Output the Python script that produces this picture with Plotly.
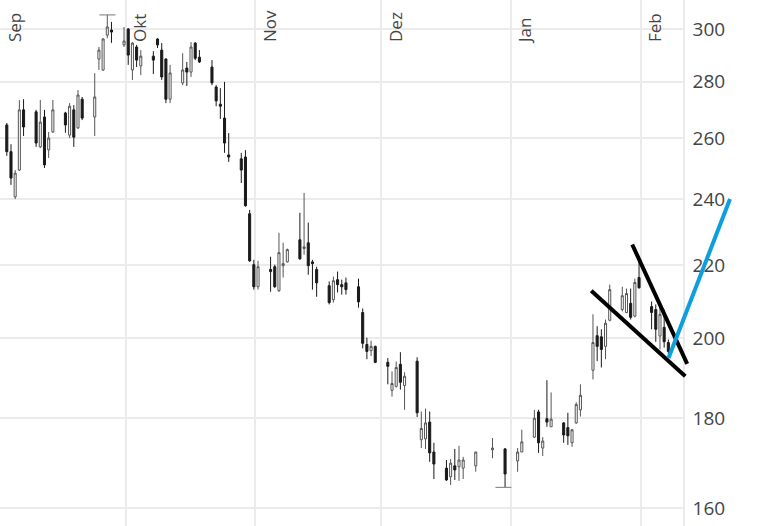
import pandas as pd
import plotly.graph_objects as go

# ---------------- data ----------------
holidays = ["2019-12-24", "2019-12-25", "2019-12-26", "2019-12-31", "2020-01-01"]
trading_days = pd.bdate_range("2019-09-02", "2020-02-07")
trading_days = trading_days[~trading_days.isin(pd.to_datetime(holidays))]
session_time = pd.Timedelta(hours=15)
dates = trading_days + session_time

open_ = [264.5, 255.4, 240.7, 249.3, 269.8, 269.1, 257.0, 267.3, 256.0, 262.1,
         268.7, 261.0, 269.8, 263.5, 273.6, 267.3, 288.4, 284.3, 297.6, 299.6,
         293.8,
         300.0, 284.3, 293.0, 285.8, 289.5, 296.1, 291.8, 288.4, 273.6, 279.5,
         285.0, 283.5, 294.5, 289.1, 285.4, 278.0, 271.8, 266.9, 254.3, 253.0,
         253.6, 235.4, 220.2,
         213.9, 218.8, 219.6, 212.8, 219.9, 221.0, 227.5, 224.9, 226.6, 221.0,
         218.8, 214.2, 210.3, 215.9, 214.5, 215.0, 213.9, 206.8, 198.3, 196.7,
         197.8,
         193.7, 186.7, 187.7, 193.2, 187.9, 194.0, 175.0, 175.2, 179.1, 172.2,
         168.6, 166.7, 169.1, 168.9, 168.6, 169.1, 172.7, 172.9,
         170.2, 172.2, 175.6, 181.5, 173.1, 179.9, 178.0, 178.9, 177.8, 174.3,
         178.9, 182.0, 191.7, 200.6, 200.3, 197.8, 204.7, 207.6, 206.8, 209.3,
         205.8, 216.5,
         208.4, 207.6, 200.5, 202.8, 198.8]
high = [265.2, 257.9, 249.3, 273.3, 273.6, 269.8, 273.3, 269.8, 262.1, 273.3,
        269.1, 272.2, 271.5, 276.9, 274.4, 283.1, 293.0, 296.4, 305.6, 302.8,
        300.8,
        300.4, 294.9, 293.8, 291.8, 291.4, 296.4, 294.5, 288.7, 286.2, 290.6,
        287.3, 294.9, 294.9, 291.8, 288.0, 278.7, 277.6, 279.9, 261.7, 255.0,
        255.9, 236.6, 221.6,
        221.3, 222.5, 220.2, 229.6, 226.6, 224.9, 235.7, 241.9, 232.7, 221.6,
        219.6, 215.4, 216.8, 218.2, 215.9, 216.5, 216.2, 207.9, 200.1, 199.3,
        198.0,
        194.8, 191.4, 193.9, 196.3, 191.2, 195.0, 181.6, 182.3, 181.6, 174.3,
        170.4, 170.6, 172.9, 173.6, 171.1, 172.2, 175.4, 173.1,
        173.1, 177.3, 182.0, 182.0, 175.6, 189.2, 186.2, 179.1, 181.3, 177.5,
        183.8, 188.2, 206.3, 203.1, 202.3, 204.9, 214.5, 213.9, 213.4, 213.4,
        216.2, 221.0,
        209.8, 209.0, 209.5, 207.6, 199.6]
low = [254.0, 244.5, 240.0, 249.0, 260.7, 257.0, 256.6, 250.0, 253.3, 261.8,
       261.8, 260.0, 257.0, 263.1, 266.2, 260.7, 284.3, 283.9, 296.4, 294.6,
       293.0,
       286.2, 280.6, 285.4, 282.4, 282.8, 292.6, 280.6, 272.2, 272.2, 278.7,
       278.4, 281.7, 288.0, 286.9, 278.7, 271.1, 266.6, 255.0, 252.0, 245.1,
       237.6, 221.0, 213.1,
       213.1, 212.5, 213.6, 212.5, 216.5, 220.8, 221.6, 223.1, 217.3, 213.1,
       211.1, 209.0, 209.5, 212.3, 211.7, 211.7, 208.1, 197.3, 194.5, 195.3,
       193.5,
       188.2, 185.2, 187.4, 186.9, 182.0, 180.3, 173.1, 172.9, 170.0, 166.2,
       165.8, 164.9, 166.0, 165.8, 166.2, 167.8, 170.8, 164.4,
       167.8, 172.2, 175.4, 172.0, 171.3, 178.0, 178.0, 174.3, 173.8, 173.4,
       178.7, 180.4, 189.4, 194.0, 192.4, 194.5, 204.4, 207.1, 206.6, 204.9,
       205.5, 213.4,
       202.3, 199.0, 197.0, 197.5, 195.8]
close = [255.4, 246.7, 248.3, 269.8, 263.8, 258.3, 265.5, 251.0, 260.0, 269.8,
         264.5, 271.1, 260.3, 275.1, 266.9, 274.4, 291.8, 296.1, 300.8, 298.8,
         295.3,
         289.9, 294.5, 288.0, 289.5, 288.0, 293.8, 281.7, 273.6, 283.2, 284.3,
         283.5, 293.0, 288.7, 287.3, 279.5, 273.0, 271.1, 258.3, 253.6, 249.3,
         237.9, 221.3, 213.9,
         219.6, 218.2, 213.9, 223.7, 220.5, 224.6, 221.9, 225.4, 219.9, 220.5,
         215.0, 209.5, 215.6, 214.5, 213.9, 213.1, 209.7, 198.6, 196.5, 197.8,
         193.7,
         192.7, 188.4, 192.4, 188.7, 190.2, 181.3, 177.6, 178.9, 172.0, 169.5,
         166.0, 169.7, 168.2, 170.4, 170.4, 172.2, 173.1, 167.3,
         172.2, 174.5, 180.0, 174.3, 174.7, 179.1, 179.8, 176.1, 175.9, 177.3,
         183.3, 185.5, 198.8, 197.8, 197.0, 203.9, 213.1, 211.4, 212.0, 205.5,
         215.1, 213.6,
         206.8, 202.3, 206.3, 199.0, 196.5]

month_starts = ["2019-09-01", "2019-10-01", "2019-11-01", "2019-12-01",
                "2020-01-01", "2020-02-01"]
month_labels = ["Sep", "Okt", "Nov", "Dez", "Jan", "Feb"]
price_ticks = [160, 180, 200, 220, 240, 260, 280, 300]

# drawings (date, price)
high_mark_x = ["2019-09-24 18:00", "2019-09-28 14:00"]
high_mark_y = [305.6, 305.6]
low_mark_x = ["2019-12-28 08:00", "2020-01-01 03:00"]
low_mark_y = [164.4, 164.4]
trend_lower_x = ["2020-01-20 05:00", "2020-02-11 16:00"]
trend_lower_y = [212.8, 190.2]
trend_upper_x = ["2020-01-30 00:00", "2020-02-12 03:00"]
trend_upper_y = [226.1, 193.3]
target_x = ["2020-02-07 16:00", "2020-02-22 08:30"]
target_y = [194.8, 240.0]

# ---------------- layout params ----------------
W, H = 759, 526
plot_frac = 683 / 759
x_start = pd.Timestamp("2019-09-01 00:00")
x_end = pd.Timestamp("2020-02-11 03:00")
x2_end = x_start + (x_end - x_start) / plot_frac
y_log_range = [2.19386, 2.49365]
grid = "#ebebeb"

fig = go.Figure()
fig.add_trace(go.Candlestick(
    x=dates, open=open_, high=high, low=low, close=close,
    increasing=dict(line=dict(color="#555555", width=1), fillcolor="#ffffff"),
    decreasing=dict(line=dict(color="#1a1a1a", width=1), fillcolor="#1a1a1a"),
    showlegend=False, xaxis="x", yaxis="y"))

for mx, my in [(high_mark_x, high_mark_y), (low_mark_x, low_mark_y)]:
    fig.add_trace(go.Scatter(x=pd.to_datetime(mx), y=my, mode="lines",
                             line=dict(color="#777777", width=1),
                             showlegend=False, hoverinfo="skip",
                             xaxis="x", yaxis="y"))

for tx, ty, col in [(trend_lower_x, trend_lower_y, "#000000"),
                    (trend_upper_x, trend_upper_y, "#000000"),
                    (target_x, target_y, "#0b9fe0")]:
    fig.add_trace(go.Scatter(x=pd.to_datetime(tx), y=ty, mode="lines",
                             line=dict(color=col, width=4),
                             showlegend=False, hoverinfo="skip",
                             xaxis="x2", yaxis="y2"))

fig.update_layout(
    width=W, height=H,
    margin=dict(l=0, r=0, t=0, b=0),
    paper_bgcolor="white", plot_bgcolor="rgba(0,0,0,0)",
    font=dict(family="Open Sans", color="#444444"),
    xaxis=dict(type="date", domain=[0, plot_frac], range=[x_start, x_end],
               side="top", anchor="free", position=1 - 42 / H,
               tickvals=month_starts, ticktext=month_labels, tickangle=-90,
               ticklabelshift=15, ticklabelstandoff=0,
               tickfont=dict(size=17, color="#444444"),
               showgrid=True, gridcolor=grid, gridwidth=1.5,
               zeroline=False, showline=False, ticks="",
               rangeslider=dict(visible=False)),
    yaxis=dict(type="log", range=y_log_range, side="right", anchor="x",
               domain=[0, 1],
               tickvals=price_ticks, ticktext=[str(v) for v in price_ticks],
               tickfont=dict(size=19, color="#444444"),
               showgrid=True, gridcolor=grid, gridwidth=1.5,
               showline=True, linecolor=grid, linewidth=1.5,
               zeroline=False, ticks="", ticklabelstandoff=4),
    xaxis2=dict(type="date", domain=[0, 1], range=[x_start, x2_end],
                anchor="y2", visible=False, showgrid=False),
    yaxis2=dict(type="log", domain=[0, 1], range=y_log_range,
                anchor="x2", visible=False, showgrid=False),
)

fig.write_html("out.html",
               config={"displayModeBar": False},
               post_script="document.body.style.margin='0';"
                           "document.body.style.padding='0';")
